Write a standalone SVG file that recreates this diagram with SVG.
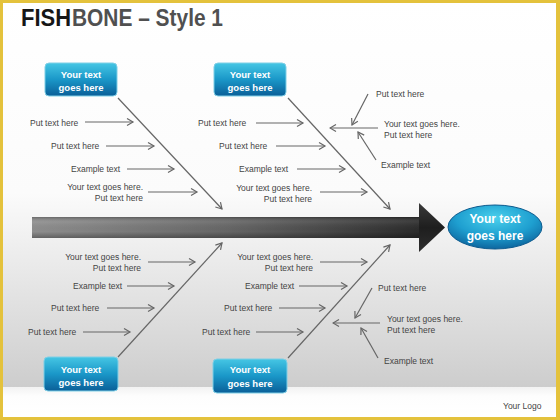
<svg xmlns="http://www.w3.org/2000/svg" width="560" height="420" viewBox="0 0 560 420">
  <defs>
    <linearGradient id="bg" x1="0" y1="0" x2="0" y2="387" gradientUnits="userSpaceOnUse">
      <stop offset="0" stop-color="#ffffff"/>
      <stop offset="0.5" stop-color="#fbfbfb"/>
      <stop offset="1" stop-color="#cdcdcd"/>
    </linearGradient>
    <linearGradient id="foot" x1="0" y1="0" x2="0" y2="1">
      <stop offset="0" stop-color="#f2f2f2"/>
      <stop offset="0.3" stop-color="#fdfdfd"/>
      <stop offset="1" stop-color="#ffffff"/>
    </linearGradient>
    <linearGradient id="spine" x1="0" y1="0" x2="1" y2="0">
      <stop offset="0" stop-color="#8e8e8e"/>
      <stop offset="0.5" stop-color="#666666"/>
      <stop offset="1" stop-color="#2a2a2a"/>
    </linearGradient>
    <linearGradient id="spineV" x1="0" y1="0" x2="0" y2="1">
      <stop offset="0" stop-color="#000" stop-opacity="0.25"/>
      <stop offset="0.25" stop-color="#fff" stop-opacity="0.08"/>
      <stop offset="0.7" stop-color="#000" stop-opacity="0"/>
      <stop offset="1" stop-color="#000" stop-opacity="0.3"/>
    </linearGradient>
    <linearGradient id="head" x1="0" y1="0" x2="0" y2="1">
      <stop offset="0" stop-color="#3a3a3a"/>
      <stop offset="0.5" stop-color="#1e1e1e"/>
      <stop offset="1" stop-color="#2e2e2e"/>
    </linearGradient>
    <linearGradient id="box" x1="0" y1="0" x2="0" y2="1">
      <stop offset="0" stop-color="#45c6e4"/>
      <stop offset="0.5" stop-color="#1a97c8"/>
      <stop offset="1" stop-color="#0a5f98"/>
    </linearGradient>
    <radialGradient id="ell" cx="0.5" cy="0.3" r="0.75">
      <stop offset="0" stop-color="#4ad0ec"/>
      <stop offset="0.55" stop-color="#1e9fd0"/>
      <stop offset="1" stop-color="#0a5c96"/>
    </radialGradient>
    <marker id="arr" markerUnits="userSpaceOnUse" markerWidth="9" markerHeight="9" refX="7.5" refY="4.5" orient="auto">
      <path d="M1.5,1 L7.5,4.5 L1.5,8" fill="none" stroke="#666" stroke-width="1.2"/>
    </marker>
    <style>
      .lbl { font-family: "Liberation Sans", Arial, sans-serif; font-size: 8.5px; fill: #444; }
      .end { text-anchor: end; }
      .ttl { font-family: "Liberation Sans", Arial, sans-serif; font-weight: bold; font-size: 24px; }
      .bt { font-family: "Liberation Sans", Arial, sans-serif; font-weight: bold; font-size: 9.5px; fill: #ffffff; text-anchor: middle; }
      .et { font-family: "Liberation Sans", Arial, sans-serif; font-weight: bold; font-size: 12px; fill: #ffffff; text-anchor: middle; }
      .bx { fill: url(#box); stroke: #7fcfe6; stroke-width: 1; }
      .cn { stroke: #666; stroke-width: 1.2; fill: none; marker-end: url(#arr); }
    </style>
  </defs>

  <!-- background and frame -->
  <rect x="0" y="0" width="560" height="420" fill="#e4c23c"/>
  <rect x="3" y="3" width="553" height="414" fill="url(#bg)"/>
  <rect x="3" y="387" width="553" height="30" fill="url(#foot)"/>

  <!-- title -->
  <g id="title">
    <text class="ttl" x="21" y="26" fill="#161616" textLength="50" lengthAdjust="spacingAndGlyphs">FISH</text>
    <text class="ttl" x="72" y="26" fill="#505050" textLength="151" lengthAdjust="spacingAndGlyphs">BONE – Style 1</text>
  </g>

  <!-- spine -->
  <g id="spine">
    <rect x="32" y="217" width="390" height="21" fill="url(#spine)"/>
    <rect x="32" y="217" width="390" height="21" fill="url(#spineV)"/>
    <polygon points="419,203 445,227.5 419,252" fill="url(#head)"/>
  </g>

  <!-- connectors -->
  <g id="connectors">
    <line class="cn" x1="118" y1="98" x2="222" y2="209"/>
    <line class="cn" x1="288" y1="98" x2="390" y2="209"/>
    <line class="cn" x1="118" y1="357" x2="222" y2="243"/>
    <line class="cn" x1="288" y1="358" x2="390" y2="245"/>

    <line class="cn" x1="85" y1="122" x2="133" y2="122"/>
    <line class="cn" x1="106" y1="146" x2="154" y2="146"/>
    <line class="cn" x1="127" y1="169" x2="174" y2="169"/>
    <line class="cn" x1="148" y1="192" x2="197" y2="192"/>

    <line class="cn" x1="256" y1="123" x2="303" y2="123"/>
    <line class="cn" x1="276" y1="146" x2="325" y2="146"/>
    <line class="cn" x1="297" y1="169" x2="345" y2="169"/>
    <line class="cn" x1="320" y1="192" x2="367" y2="192"/>

    <line class="cn" x1="368" y1="94" x2="352" y2="125"/>
    <line class="cn" x1="378" y1="128" x2="330" y2="128"/>
    <line class="cn" x1="376" y1="160" x2="358" y2="132"/>

    <line class="cn" x1="148" y1="262" x2="195" y2="262"/>
    <line class="cn" x1="127" y1="286" x2="174" y2="286"/>
    <line class="cn" x1="107" y1="308" x2="154" y2="308"/>
    <line class="cn" x1="83" y1="332" x2="130" y2="332"/>

    <line class="cn" x1="320" y1="262" x2="367" y2="262"/>
    <line class="cn" x1="299" y1="286" x2="347" y2="286"/>
    <line class="cn" x1="279" y1="308" x2="325" y2="308"/>
    <line class="cn" x1="256" y1="332" x2="303" y2="332"/>

    <line class="cn" x1="372" y1="288" x2="355" y2="318"/>
    <line class="cn" x1="380" y1="323" x2="333" y2="323"/>
    <line class="cn" x1="378" y1="358" x2="361" y2="328"/>
  </g>

  <!-- cause boxes -->
  <g id="box-top-left">
    <rect class="bx" x="45" y="63" width="72" height="33" rx="4"/>
    <text class="bt" x="81" y="78">Your text</text>
    <text class="bt" x="81" y="91">goes here</text>
  </g>
  <g id="box-top-mid">
    <rect class="bx" x="214" y="63" width="72" height="33" rx="4"/>
    <text class="bt" x="250" y="78">Your text</text>
    <text class="bt" x="250" y="91">goes here</text>
  </g>
  <g id="box-bottom-left">
    <rect class="bx" x="44" y="357" width="74" height="34" rx="4"/>
    <text class="bt" x="81" y="373">Your text</text>
    <text class="bt" x="81" y="386">goes here</text>
  </g>
  <g id="box-bottom-mid">
    <rect class="bx" x="213" y="359" width="74" height="34" rx="4"/>
    <text class="bt" x="250" y="373">Your text</text>
    <text class="bt" x="250" y="387">goes here</text>
  </g>

  <!-- effect -->
  <g id="effect">
    <ellipse cx="495" cy="227" rx="47" ry="22" fill="url(#ell)" stroke="#0b5a8e" stroke-width="1"/>
    <text class="et" x="495" y="223">Your text</text>
    <text class="et" x="495" y="240">goes here</text>
  </g>

  <!-- labels -->
  <g id="labels-top-left">
    <text class="lbl" x="30" y="126">Put text here</text>
    <text class="lbl" x="51" y="149">Put text here</text>
    <text class="lbl" x="71" y="172">Example text</text>
    <text class="lbl end" x="143" y="190">Your text goes here.</text>
    <text class="lbl end" x="143" y="201">Put text here</text>
  </g>
  <g id="labels-top-mid">
    <text class="lbl" x="198" y="126">Put text here</text>
    <text class="lbl" x="219" y="149">Put text here</text>
    <text class="lbl" x="239" y="172">Example text</text>
    <text class="lbl end" x="312" y="191">Your text goes here.</text>
    <text class="lbl end" x="312" y="202">Put text here</text>
  </g>
  <g id="labels-top-right">
    <text class="lbl" x="376" y="97">Put text here</text>
    <text class="lbl" x="384" y="127">Your text goes here.</text>
    <text class="lbl" x="384" y="138">Put text here</text>
    <text class="lbl" x="381" y="168">Example text</text>
  </g>
  <g id="labels-bottom-left">
    <text class="lbl end" x="141" y="260">Your text goes here.</text>
    <text class="lbl end" x="141" y="271">Put text here</text>
    <text class="lbl" x="73" y="289">Example text</text>
    <text class="lbl" x="51" y="311">Put text here</text>
    <text class="lbl" x="28" y="335">Put text here</text>
  </g>
  <g id="labels-bottom-mid">
    <text class="lbl end" x="313" y="260">Your text goes here.</text>
    <text class="lbl end" x="313" y="271">Put text here</text>
    <text class="lbl" x="245" y="289">Example text</text>
    <text class="lbl" x="224" y="311">Put text here</text>
    <text class="lbl" x="202" y="335">Put text here</text>
  </g>
  <g id="labels-bottom-right">
    <text class="lbl" x="378" y="291">Put text here</text>
    <text class="lbl" x="387" y="322">Your text goes here.</text>
    <text class="lbl" x="387" y="333">Put text here</text>
    <text class="lbl" x="384" y="364">Example text</text>
  </g>

  <g id="logo">
    <text class="lbl" x="503" y="409" fill="#333">Your Logo</text>
  </g>
</svg>
